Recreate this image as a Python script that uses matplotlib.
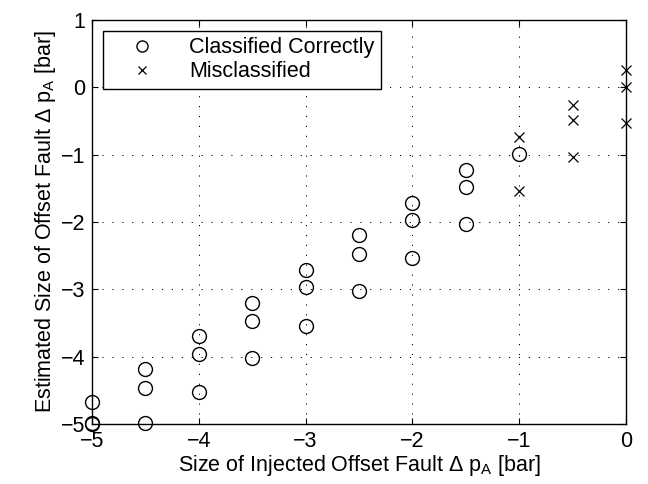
import numpy as np
import matplotlib
matplotlib.use("Agg")
import matplotlib.pyplot as plt

plt.rcParams['font.family'] = ['Liberation Sans', 'DejaVu Sans']
plt.rcParams['mathtext.default'] = 'regular'

# correctly classified points
x_ok = [-5, -5, -5,
        -4.5, -4.5, -4.5,
        -4, -4, -4,
        -3.5, -3.5, -3.5,
        -3, -3, -3,
        -2.5, -2.5, -2.5,
        -2, -2, -2,
        -1.5, -1.5, -1.5,
        -1]
y_ok = [-4.68, -4.98, -5.0,
        -4.18, -4.46, -4.98,
        -3.70, -3.96, -4.52,
        -3.20, -3.47, -4.02,
        -2.72, -2.97, -3.54,
        -2.20, -2.47, -3.02,
        -1.72, -1.97, -2.54,
        -1.23, -1.48, -2.03,
        -0.99]

# misclassified points
x_bad = [-1, -1, -0.5, -0.5, -0.5, 0, 0, 0]
y_bad = [-0.74, -1.54, -0.26, -0.48, -1.03, 0.25, 0.0, -0.53]

fig = plt.figure(figsize=(6.48, 4.84), dpi=100)
ax = fig.add_axes([0.142, 0.124, 0.824, 0.835])

ax.plot(x_ok, y_ok, 'o', mfc='none', mec='k', ms=10, mew=1.0,
        label="Classified Correctly", clip_on=False, zorder=3)
ax.plot(x_bad, y_bad, 'x', color='k', ms=7, mew=0.9,
        label="Misclassified", clip_on=False, zorder=3)

ax.set_xlim(-5, 0)
ax.set_ylim(-5, 1)
ax.set_xticks(np.arange(-5, 0.5, 1))
ax.set_yticks(np.arange(-5, 1.5, 1))
ax.set_xticklabels(['\u22125', '\u22124', '\u22123', '\u22122', '\u22121', '0'])
ax.set_yticklabels(['\u22125', '\u22124', '\u22123', '\u22122', '\u22121', '0', '1'])
ax.grid(True, linestyle=(0, (1.2, 9)), color='k', linewidth=0.7)
ax.tick_params(direction='in', top=True, right=True, labelsize=15.5, length=4, pad=5)
for s in ax.spines.values():
    s.set_linewidth(1.0)
ax.set_axisbelow(True)

ax.set_xlabel("Size of Injected Offset Fault \u0394 p$_A$ [bar]", fontsize=15.5, labelpad=1)
ax.set_ylabel("Estimated Size of Offset Fault \u0394 p$_A$ [bar]", fontsize=15.5, labelpad=2)

leg = ax.legend(loc='upper left', fontsize=15.5, frameon=True, fancybox=False,
                edgecolor='k', framealpha=1, handlelength=3.0, handletextpad=0.7,
                borderaxespad=0.5, labelspacing=0.15, borderpad=0.3, markerscale=0.8)
leg.get_frame().set_linewidth(1.0)

fig.savefig("out.png", dpi=100)
